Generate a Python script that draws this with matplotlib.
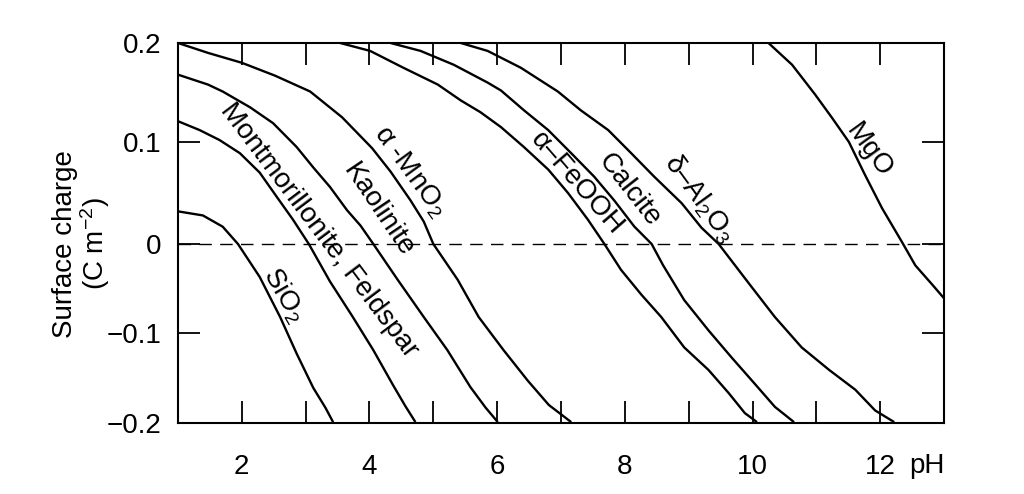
import numpy as np
import matplotlib
matplotlib.use('Agg')
import matplotlib.pyplot as plt

plt.rcParams['font.family'] = ['Liberation Sans', 'DejaVu Sans']
plt.rcParams['mathtext.fontset'] = 'custom'
plt.rcParams['mathtext.rm'] = 'Liberation Sans'
plt.rcParams['mathtext.it'] = 'Liberation Sans:italic'
plt.rcParams['xtick.direction'] = 'in'
plt.rcParams['ytick.direction'] = 'in'
plt.rcParams['xtick.top'] = True
plt.rcParams['ytick.right'] = True
plt.rcParams['xtick.major.size'] = 16
plt.rcParams['ytick.major.size'] = 15
plt.rcParams['xtick.major.width'] = 1.3
plt.rcParams['ytick.major.width'] = 1.3

# surface charge (C m-2) vs pH
ph_sio2 = [1.00, 1.39, 1.70, 1.94, 2.28, 2.60, 2.86, 3.12, 3.31, 3.43]
q_sio2 = [0.032, 0.028, 0.017, 0.0, -0.037, -0.082, -0.123, -0.161, -0.183, -0.199]

ph_mont = [1.00, 1.34, 1.65, 1.97, 2.28, 2.55, 2.80, 3.05, 3.38, 3.73, 4.06, 4.37, 4.56, 4.72]
q_mont = [0.121, 0.112, 0.102, 0.089, 0.070, 0.046, 0.024, 0.0, -0.042, -0.081, -0.119, -0.158, -0.181, -0.199]

ph_kaol = [1.00, 1.47, 1.70, 2.13, 2.49, 2.86, 3.12, 3.38, 3.65, 3.86, 4.06, 4.44, 4.85, 5.22, 5.58, 5.82, 6.01]
q_kaol = [0.168, 0.158, 0.151, 0.135, 0.119, 0.095, 0.075, 0.056, 0.033, 0.018, 0.0, -0.040, -0.082, -0.119, -0.160, -0.183, -0.199]

ph_mno2 = [1.00, 1.47, 2.00, 2.52, 3.07, 3.57, 4.04, 4.33, 4.64, 4.85, 5.00, 5.38, 5.71, 6.10, 6.48, 6.81, 7.16]
q_mno2 = [0.200, 0.190, 0.180, 0.167, 0.151, 0.125, 0.094, 0.071, 0.043, 0.022, 0.0, -0.040, -0.082, -0.119, -0.153, -0.180, -0.199]

ph_feooh = [3.54, 4.01, 4.53, 5.07, 5.43, 5.74, 6.06, 6.42, 6.80, 7.11, 7.42, 7.68, 7.94, 8.26, 8.57, 8.93, 9.31, 9.63, 9.88, 10.07]
q_feooh = [0.200, 0.192, 0.175, 0.158, 0.142, 0.130, 0.115, 0.095, 0.073, 0.050, 0.024, 0.0, -0.029, -0.057, -0.082, -0.116, -0.141, -0.167, -0.189, -0.199]

ph_calc = [4.33, 4.80, 5.32, 5.85, 6.06, 6.42, 6.80, 7.16, 7.52, 7.83, 8.15, 8.42, 8.60, 8.93, 9.31, 9.67, 10.03, 10.35, 10.65]
q_calc = [0.200, 0.192, 0.178, 0.160, 0.152, 0.132, 0.112, 0.089, 0.066, 0.043, 0.017, 0.0, -0.024, -0.063, -0.097, -0.127, -0.156, -0.182, -0.199]

ph_al2o3 = [5.43, 5.85, 6.37, 6.95, 7.31, 7.74, 8.10, 8.46, 8.89, 9.20, 9.47, 9.94, 10.35, 10.77, 11.20, 11.61, 11.92, 12.22]
q_al2o3 = [0.200, 0.192, 0.175, 0.151, 0.132, 0.112, 0.089, 0.066, 0.040, 0.016, 0.0, -0.044, -0.082, -0.116, -0.141, -0.163, -0.186, -0.199]

ph_mgo = [10.25, 10.62, 10.98, 11.25, 11.51, 11.76, 12.03, 12.35, 12.55, 12.82, 13.0]
q_mgo = [0.200, 0.178, 0.148, 0.124, 0.100, 0.068, 0.035, 0.001, -0.024, -0.046, -0.061]

curves = [
    (ph_sio2, q_sio2, 'SiO$_2$', 2.66, -0.058, -60),
    (ph_mont, q_mont, 'Montmorillonite, Feldspar', 3.21, 0.013, -53),
    (ph_kaol, q_kaol, 'Kaolinite', 4.14, 0.033, -56),
    (ph_mno2, q_mno2, 'α -MnO$_2$', 4.64, 0.071, -54),
    (ph_feooh, q_feooh, 'α–FeOOH', 7.25, 0.059, -49),
    (ph_calc, q_calc, 'Calcite', 8.07, 0.053, -52),
    (ph_al2o3, q_al2o3, 'δ–Al$_2$O$_3$', 9.17, 0.045, -54),
    (ph_mgo, q_mgo, 'MgO', 11.83, 0.092, -54),
]

# the printed y axis is not evenly spaced; mimic it with a piecewise scale
q_knots = [-1.0, -0.2, -0.1, 0.0, 0.1, 0.2, 1.0]
s_knots = [-720, 0, 90, 179, 281, 380, 1172]

def fwd(v):
    return np.interp(v, q_knots, s_knots)

def inv(v):
    return np.interp(v, s_knots, q_knots)

fig = plt.figure(figsize=(10.24, 4.94), dpi=100)
ax = fig.add_axes([0.1738, 0.1437, 0.7481, 0.7693])
ax.set_yscale('function', functions=(fwd, inv))

for ph, q, name, tx, ty, rot in curves:
    ax.plot(ph, q, color='black', lw=1.7, solid_capstyle='butt', solid_joinstyle='round')
    ax.text(tx, ty, name, rotation=rot, rotation_mode='anchor',
            ha='center', va='center', fontsize=20)

ax.axhline(0, color='black', lw=1.0, dashes=(9, 6))

ax.set_xlim(1, 13)
ax.set_ylim(-0.2, 0.2)
ax.set_xticks(range(2, 13))
ax.set_xticklabels([str(v) if v % 2 == 0 else '' for v in range(2, 13)])
ax.set_yticks([-0.2, -0.1, 0, 0.1, 0.2], ['\u22120.2', '\u22120.1', '0', '0.1', '0.2'])
ax.yaxis.set_minor_locator(matplotlib.ticker.NullLocator())
ax.xaxis.set_minor_locator(matplotlib.ticker.NullLocator())
ax.tick_params(which='major', direction='in', length=16, width=1.3,
               top=True, right=True, bottom=True, left=True, labelsize=20)
ax.tick_params(axis='x', pad=22)
ax.tick_params(axis='y', pad=12)
for sp in ax.spines.values():
    sp.set_linewidth(1.5)

fig.text(82 / 1024, 1 - 244 / 494, 'Surface charge\n(C m$^{-2}$)', rotation=90,
         ha='center', va='center', multialignment='center', fontsize=20,
         linespacing=1.0)
fig.text(927 / 1024, 1 - 466 / 494, 'pH', ha='center', va='center', fontsize=20)

fig.savefig('out.png', dpi=100)
